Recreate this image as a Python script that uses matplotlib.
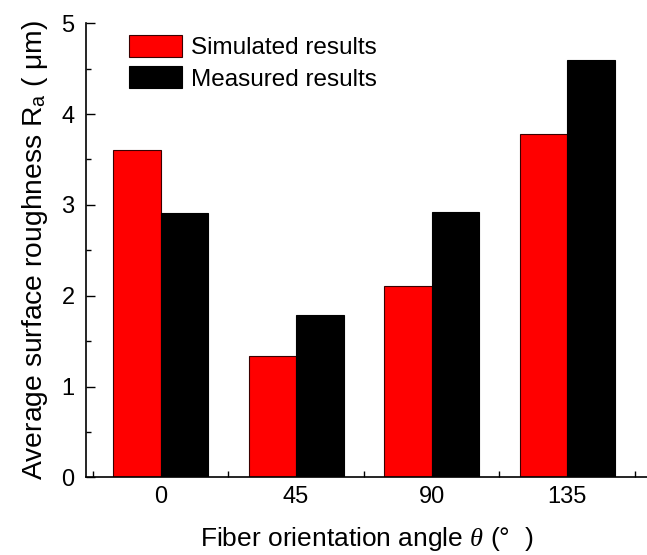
import matplotlib
matplotlib.use("Agg")
import matplotlib.pyplot as plt
import numpy as np
from matplotlib.ticker import FixedLocator, NullFormatter

plt.rcParams['font.family'] = ['Liberation Sans', 'DejaVu Sans']
plt.rcParams['mathtext.fontset'] = 'custom'
plt.rcParams['mathtext.rm'] = 'Liberation Sans'
plt.rcParams['mathtext.it'] = 'Liberation Serif:italic'

categories = ['0', '45', '90', '135']
simulated = [3.61, 1.34, 2.11, 3.78]
measured = [2.91, 1.79, 2.92, 4.60]
series_labels = ['Simulated results', 'Measured results']

W, H = 647, 555
fig = plt.figure(figsize=(W / 100, H / 100), dpi=100)
ax = fig.add_axes([85.7 / W, 1 - 477.3 / H, (W - 85.7) / W, (477.3 - 23.3) / H])

x = np.arange(len(categories))
w = 0.35
ax.bar(x - w / 2, simulated, width=w, color='#ff0000', edgecolor='#3a0000', linewidth=0.8, label=series_labels[0])
ax.bar(x + w / 2, measured, width=w, color='#000000', edgecolor='#000000', linewidth=0.8, label=series_labels[1])

ax.set_xlim(-0.552, 3.588)
ax.set_ylim(0, 5)
ax.spines['top'].set_visible(False)
ax.spines['right'].set_visible(False)
ax.spines['left'].set_linewidth(1.2)
ax.spines['bottom'].set_linewidth(1.2)

ax.set_xticks(x)
ax.set_xticklabels(categories)
ax.xaxis.set_minor_locator(FixedLocator(np.arange(-0.5, 4.0, 1.0)))
ax.xaxis.set_minor_formatter(NullFormatter())
ax.tick_params(axis='x', which='major', length=0, pad=6.5, labelsize=17)
ax.tick_params(axis='x', which='minor', direction='in', length=4, width=1)

ax.set_yticks([0, 1, 2, 3, 4, 5])
ax.yaxis.set_minor_locator(FixedLocator([0.5, 1.5, 2.5, 3.5, 4.5]))
ax.tick_params(axis='y', which='major', direction='in', length=6.5, width=1, pad=8, labelsize=17)
ax.tick_params(axis='y', which='minor', direction='in', length=3.5, width=1)

ax.set_xlabel('Fiber orientation angle $\\theta$ (°  )', fontsize=19, labelpad=12)
ax.set_ylabel('Average surface roughness R$_{\\mathregular{a}}$ ( μm)', fontsize=20.3, labelpad=8)

leg = ax.legend(loc='upper left', bbox_to_anchor=(129 / W, 1 - 35 / H), bbox_transform=fig.transFigure,
                frameon=False, fontsize=17.5, handlelength=2.2, handleheight=1.0,
                handletextpad=0.35, labelspacing=0.3, borderpad=0, borderaxespad=0)

fig.savefig('out.png', dpi=100)
